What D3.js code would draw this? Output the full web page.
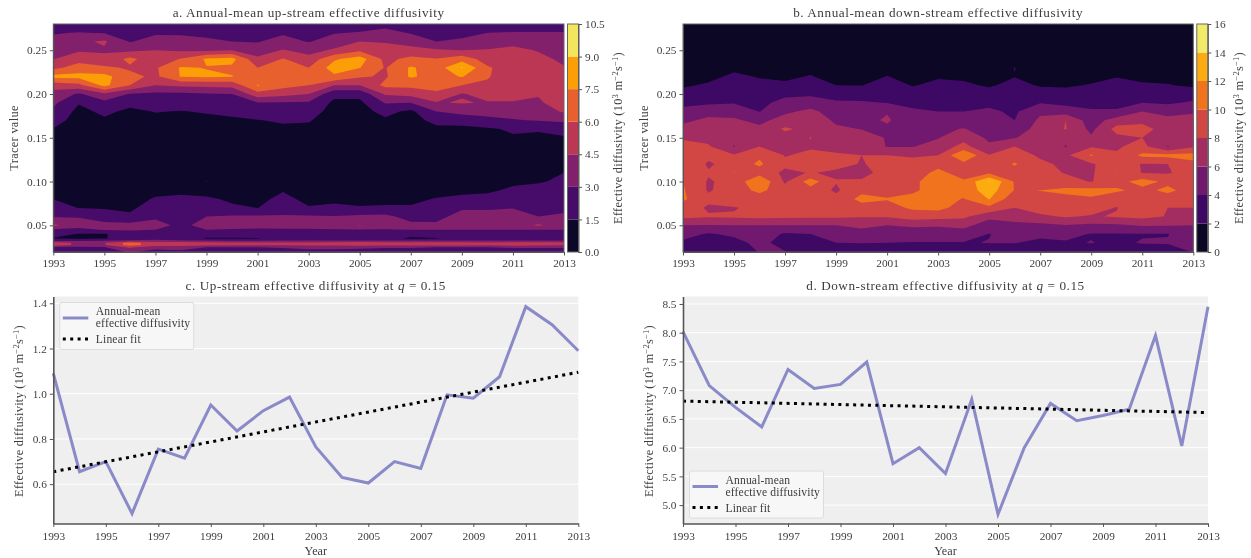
<!DOCTYPE html>
<html>
<head>
<meta charset="utf-8">
<script src="https://cdn.jsdelivr.net/npm/d3@7"></script>
<style>
body { margin: 0; background: #fff; }
svg { display: block; filter: blur(0.35px); }
text { font-family: "Liberation Serif", serif; fill: #3c3c3c; }
</style>
</head>
<body>
<svg id="chart" width="1251" height="558"></svg>
<script>
var years = d3.range(1993, 2014);
var yearTicks = d3.range(1993, 2014, 2);

// tracer levels of each grid row, top to bottom
var upLevels = [.28,.27,.26,.25,.24,.23,.22,.21,.20,.19,.18,.17,.16,.14,.10,.09,.08,.07,.06,.05,.045,.04,.035,.0325,.03,.0275,.025,.02];
var downLevels = [.28,.26,.24,.23,.22,.21,.20,.19,.18,.17,.16,.15,.14,.13,.12,.11,.10,.09,.08,.07,.06,.05,.04,.03,.02];

// annual-mean diffusivity, one list per year, values follow the levels above
var upByYear = [
  [2.2,2.9,3.4,3.9,4.45,5.6,8.0,5.1,4.0,3.3,2.7,2.0,1.45,1,1,1.2,1.48,2.2,2.9,4.8,2.8,2.1,1.4,2.7,5.2,5.2,2.8,2.4],
  [2.3,3.05,4.2,4.3,5.4,6.7,8.0,5.6,2.8,1.6,1.1,1,.9,.8,.8,.9,1.1,1.45,2.9,3.6,2.6,1.4,1.3,2.8,4.2,4.2,2.8,2.4],
  [2.3,2.9,4.7,4.3,4.9,6.3,8.0,7.9,4.2,2.6,1.8,1.3,1,.8,.8,.9,1.1,1.4,2.2,3.5,3.1,1.4,1.4,2.9,4.4,4.4,2.9,2.4],
  [2,2.4,2.9,4.2,6.4,5.8,6.4,6,2.9,1.9,1.2,1,.9,.8,.8,.9,1.1,1.3,1.7,3.5,3.2,2.2,2.2,3.2,6.6,6.6,4.8,3.2],
  [2.1,2.8,3.6,4.5,5,5.8,5.7,4.5,2.7,2,1.55,1.2,1,.8,.8,1.2,1.6,2,2.7,3.6,3,2.4,2.4,3.4,5.2,5.2,3.5,2.6],
  [2.1,2.8,3.5,4.3,6.1,7.65,7.6,4.8,2.7,2,1.45,1.1,.9,.8,.8,1.3,1.7,2,2.3,2.6,2.5,2.2,2.2,3.2,5.3,5.3,3.5,2.8],
  [2,2.6,3.3,4.2,7.7,7.45,7.7,4.9,2.9,2.2,1.6,1.2,1,.8,1.52,1,1.7,2.3,3,3.6,3,2,1.4,3,4.9,4.9,3,2.6],
  [1.9,2.4,3,4.5,8,7.2,7.55,5,3,2.3,1.8,1.3,1,.8,.8,1,1.3,1.7,3.2,3.6,2.9,2,1.4,2.9,4.8,4.8,3,2.6],
  [1.9,2.3,2.9,3.8,4.8,6,6.6,7.6,5.4,2.9,2.2,1.45,1.1,.8,.8,1,1.3,1.48,3.2,3.6,2.8,2,1.45,2.9,4.7,4.7,3,2.6],
  [2.2,2.8,3.6,4.6,6.1,6.9,7,6.5,5,2.9,2.3,1.7,1.2,.8,.9,1.45,1.7,2,3.2,3.7,2.8,2.1,1.9,3,4.7,4.7,3.1,2.6],
  [2,2.4,2.9,4,5,6,6.8,6,4.5,2.8,2.1,1.6,1.2,.9,.8,1,1.3,1.55,3.2,3.7,2.8,2.1,2.1,3.1,4.8,4.8,3.3,2.7],
  [2.2,2.9,3.7,4.7,7.3,8.2,7.2,4.5,1.9,1.2,1,.9,.8,.8,.8,1,1.3,1.7,3.1,3.8,2.9,2.2,2.2,3.1,4.9,4.9,3.3,2.7],
  [2.3,3.1,4.5,5.7,8.2,7.55,6.2,4.5,1.9,1.2,1,.9,.8,.8,.8,1,1.3,1.55,3.3,4.55,2.9,2.1,2.1,3.1,5.3,5.3,3.2,2.6],
  [2.6,3.4,4.4,5,5.6,5.9,5.8,6.4,4.7,3.1,1.9,1.3,1,.8,.8,1,1.3,1.6,3.4,4,2.9,2.2,2.2,3.1,5,5,3.1,2.6],
  [2.2,2.9,3.9,5,6.4,7.7,7.7,6.4,5,3,1.2,1,.9,.8,.8,1,1.3,1.6,2.4,3.4,3,2.3,1.2,3,5,5,3.1,2.6],
  [1.9,2.4,3,4.7,6.1,6.7,6.9,6.6,5.7,4.4,3,1.9,1.2,.8,.8,1.2,1.55,1.9,2.5,3.3,3,2.3,1.4,3,5,5,3,2.6],
  [2,2.5,3.3,4.5,6.9,9.1,7.6,6,4.4,4.6,3.5,2,1.2,.8,.8,1.3,1.7,2.8,3.6,3.9,3,2.3,2.2,3,4.9,4.9,3,2.6],
  [2.3,3,3.7,4.6,5.3,6.2,6.2,5.6,5,4.4,3.5,2.6,1.3,.9,.8,1.4,1.7,2.8,3.6,3.9,3,2.3,1.7,3,4.7,4.7,3,2.5],
  [2.4,3.05,4,4.9,5.2,5.2,4.6,5,5,4.4,3.6,2.9,1.7,1,1.4,1.6,2.1,2.9,4.4,3.8,3,2.4,2.2,3,5.1,5.1,3.1,2.6],
  [2.4,3.05,3.8,4.4,4.9,5.1,5.1,5,4.7,4.1,3.6,3.1,1.6,1,1.45,1.7,2.2,2.6,3,4.7,3,2.3,2.2,3,5,4.8,3.1,2.6],
  [2.4,3.05,3.5,3.9,4.2,4.6,4.9,5.1,5.2,6,4.7,3.4,1.7,1.2,1.6,1.8,2.2,2.7,3.2,3.6,3,2.3,2.2,3,5,4.7,3.1,2.6]
];
var downByYear = [
  [.6,.7,.9,1.1,1.4,1.8,2.5,3.5,4.6,5.6,6.6,7.8,8.6,9,10.1,9.5,10.05,10.2,10.3,9.2,8.5,6,4.7,3.6,3],
  [.6,.7,1,1.2,1.6,2.2,3,3.7,5.3,6.4,6.9,7.5,8.2,8.6,7.7,8.2,7.8,7.8,8.5,7.7,8.2,5.9,3.8,3.2,3],
  [.6,.8,1.3,1.7,2.3,2.8,3.4,3.9,5.1,6.3,6.7,6.5,5.9,8.2,9,10.05,8.7,9,10.05,7.8,8.3,6,4.4,3.3,3],
  [.6,.7,1.1,1.4,1.9,2.4,3,3.5,3.95,5.4,6.5,7.2,8,9.7,10.3,9.2,11.8,10.5,9,8.8,8.5,6,5.3,4.6,4.1],
  [.6,.7,1,1.3,1.7,2.3,3.6,4.6,5.6,6.9,8.3,7.1,7.5,7.9,8.4,7.6,7.7,8.8,9,8.9,8.4,6,3.7,3.2,4.05],
  [.6,.8,1.2,1.6,2.1,2.9,3.7,4.9,6.5,7.1,7.4,8.05,7.8,8.4,8.8,8.1,11,9.2,9,8.8,8.3,6,4,3,2.8],
  [.5,.6,.8,1,1.4,2,3.2,4.3,5,5.7,6.3,6.8,7.5,8.2,8.5,7.7,8.1,7.7,8.6,8.8,8.3,6,4.7,4,2.5],
  [.5,.6,.8,1,1.4,1.95,3.2,4.2,4.9,5.5,5.95,6.7,7.3,8,7.9,7.5,8.2,9.5,10.6,9.2,8.1,6.6,5,4.05,3],
  [.5,.6,.9,1.4,2.05,2.8,3.4,3.95,5.9,6.2,5.7,5.9,5.9,8,8.5,8.6,8.9,9.4,10.1,9.3,8.2,6,5,4,3],
  [.5,.6,.8,1.1,1.5,1.9,2.7,3.5,4.3,5,5.7,5.9,5.9,7.8,8.6,8.8,9.2,9.7,10.5,10.3,9,6.3,4.9,3.9,3.1],
  [.5,.6,.9,1.3,1.85,2.4,2.9,3.4,4,4.8,5.6,5.9,6.9,8,9.3,10.6,12.05,10.8,10.7,10.6,8.7,6.2,5,3.9,3.1],
  [.5,.6,.9,1.2,1.7,2.3,2.8,3.4,4,5,6.1,7.4,8.6,12.05,9.4,9,10.3,10.8,9.9,9.1,8.4,6.6,4.9,3.9,3.2],
  [.5,.6,.8,1,1.3,1.8,2.7,3.6,4.3,4.8,5.2,5.6,6.4,8.1,8.7,9.6,14.1,13,12.1,9.5,6.5,5,3.95,4.05,3],
  [.5,.6,.9,2.05,1.95,2.5,2.9,3.3,3.7,4,5,5.9,8,9,10.2,9.2,9.8,9.9,8.6,8,7,5.4,4.6,4.05,3.1],
  [.5,.6,.8,1,1.4,1.85,2.7,3.9,5.6,6.4,6.7,7,7.4,7.7,8.4,8.6,8.9,10.02,9.8,9,7.6,5.5,4.3,3.7,3.1],
  [.5,.6,.7,.9,1.2,1.8,2.6,3.5,5,8,8.1,6.5,5.9,7.6,7.6,7.9,8.6,10.5,9.4,9,8.2,5.9,4.6,3.8,3.2],
  [.5,.6,.8,1.1,1.6,2.1,2.7,3.5,4.2,4.9,5.5,6.3,7.8,10.2,7.8,7.7,7.9,10.6,9.8,9,7.8,5.6,3.9,4.05,3.1],
  [.5,.6,.9,1.3,1.95,2.4,2.9,3.5,4.2,7,8.7,7.5,7.8,8.2,9,10.05,9.2,10.3,8.7,7.9,8.2,5.7,3.9,3.7,3.1],
  [.5,.6,.8,1.1,1.6,2.2,3,4,6,7.3,8.9,8,8.6,10.4,7.9,7.9,10.9,9.4,9,10.05,8.5,6.2,3.9,4.1,3.1],
  [.5,.6,.8,1,1.5,2.1,2.9,3.7,5.4,6.5,6.9,6.7,5.9,10.6,8,7.8,9.5,10.5,9,8,7.9,6.1,3.95,4.1,3.3],
  [.5,.5,.6,.8,1.2,1.7,3,4.3,5.9,6.3,6.9,7.9,7.8,10.7,9.5,9,9.2,9,8.9,8,7.9,6,4.7,4.05,4.1]
];

var upLines = [1.09,.655,.70,.47,.755,.715,.95,.835,.925,.985,.765,.63,.605,.70,.67,.995,.98,1.075,1.385,1.305,1.19];
var upFit = [.655,1.095];
var downLines = [8.02,7.08,6.7,6.36,7.36,7.03,7.1,7.49,5.72,6.0,5.55,6.84,4.84,6.0,6.77,6.47,6.56,6.67,7.95,6.03,8.45];
var downFit = [6.81,6.61];

var upBands = [0,1.5,3,4.5,6,7.5,9,10.5];
var downBands = [0,2,4,6,8,10,12,14,16];

var svg = d3.select("#chart");
var gray = "#555";

function diffusivityLabel(sel) {
    // Effective diffusivity (10^3 m^-2 s^-1)
    sel.attr("font-size", "12.4px").style("letter-spacing", "0.25px");
    sel.append("tspan").text("Effective diffusivity (10");
    sel.append("tspan").attr("dy", -4).attr("font-size", "8.5px").text("3");
    sel.append("tspan").attr("dy", 4).text(" m");
    sel.append("tspan").attr("dy", -4).attr("font-size", "8.5px").text("\u22122");
    sel.append("tspan").attr("dy", 4).text("s");
    sel.append("tspan").attr("dy", -4).attr("font-size", "8.5px").text("\u22121");
    sel.append("tspan").attr("dy", 4).text(")");
}

function styleAxis(g) {
    g.selectAll("text").attr("font-size", "11.3px").style("fill", "#3c3c3c");
    g.selectAll("line").attr("stroke", gray);
    g.selectAll(".domain").attr("stroke", gray);
}

function title(text, cx, y, q) {
    var t = svg.append("text").attr("x", cx).attr("y", y).attr("text-anchor", "middle")
        .attr("font-size", "13.2px").style("letter-spacing", "0.55px");
    t.append("tspan").text(text);
    if (q) {
        t.append("tspan").attr("font-style", "italic").text("q");
        t.append("tspan").text(" = 0.15");
    }
}

function contourPanel(id, byYear, levels, bands, box, cbarFormat, titleText) {
    var x = d3.scaleLinear().domain([1993, 2013]).range([box.left, box.right]);
    var y = d3.scaleLinear().domain([.0195, .28]).range([box.bottom, box.top]);
    var rowToLevel = d3.scaleLinear().domain(d3.range(levels.length)).range(levels);
    var nc = years.length, nr = levels.length;
    var values = [];
    for (var r = 0; r < nr; r++) {
        for (var c = 0; c < nc; c++) values.push(byYear[c][r]);
    }
    var colour = function (i) { return d3.interpolateInferno((i + .5) / (bands.length - 1)); };

    var contours = d3.contours().size([nc, nr]).thresholds(bands.slice(0, -1))(values);
    var proj = d3.geoTransform({
        point: function (px, py) {
            this.stream.point(x(1993 + px - .5), y(rowToLevel(py - .5)));
        }
    });
    var path = d3.geoPath(proj);

    svg.append("clipPath").attr("id", "clip" + id).append("rect")
        .attr("x", box.left).attr("y", box.top)
        .attr("width", box.right - box.left).attr("height", box.bottom - box.top);
    var g = svg.append("g").attr("clip-path", "url(#clip" + id + ")");
    g.append("rect").attr("x", box.left).attr("y", box.top)
        .attr("width", box.right - box.left).attr("height", box.bottom - box.top)
        .attr("fill", colour(0));
    g.selectAll("path").data(contours).enter().append("path")
        .attr("d", path)
        .attr("fill", function (d, i) { return colour(i); });

    svg.append("rect").attr("x", box.left).attr("y", box.top)
        .attr("width", box.right - box.left).attr("height", box.bottom - box.top)
        .attr("fill", "none").attr("stroke", "#666");

    svg.append("g").attr("transform", "translate(0," + box.bottom + ")")
        .call(d3.axisBottom(x).tickValues(yearTicks).tickFormat(d3.format("d")).tickSize(3.5).tickSizeOuter(0))
        .call(styleAxis);
    svg.append("g").attr("transform", "translate(" + box.left + ",0)")
        .call(d3.axisLeft(y).tickValues([.05, .10, .15, .20, .25]).tickFormat(d3.format(".2f")).tickSize(3.5).tickSizeOuter(0))
        .call(styleAxis);

    svg.append("text").attr("transform", "translate(" + (box.left - 35.5) + "," + (box.top + box.bottom) / 2 + ") rotate(-90)")
        .attr("text-anchor", "middle").attr("font-size", "12.4px").style("letter-spacing", "0.3px").text("Tracer value");

    title(titleText, (box.left + box.right) / 2, 17);

    // colour bar
    var cb = d3.scaleLinear().domain([bands[0], bands[bands.length - 1]]).range([box.bottom, box.top]);
    var cbx = box.right + 3.5, cbw = 11;
    svg.selectAll(".cb" + id).data(bands.slice(0, -1)).enter().append("rect")
        .attr("class", "cb" + id)
        .attr("x", cbx).attr("width", cbw)
        .attr("y", function (d, i) { return cb(bands[i + 1]); })
        .attr("height", function (d, i) { return cb(bands[i]) - cb(bands[i + 1]); })
        .attr("fill", function (d, i) { return colour(i); });
    svg.append("rect").attr("x", cbx).attr("y", box.top).attr("width", cbw).attr("height", box.bottom - box.top)
        .attr("fill", "none").attr("stroke", "#666");
    svg.append("g").attr("transform", "translate(" + (cbx + cbw) + ",0)")
        .call(d3.axisRight(cb).tickValues(bands).tickFormat(d3.format(cbarFormat)).tickSize(3.5).tickSizeOuter(0))
        .call(styleAxis);
    svg.append("text").attr("transform", "translate(" + box.labelX + "," + (box.top + box.bottom) / 2 + ") rotate(-90)")
        .attr("text-anchor", "middle").call(diffusivityLabel);
}

function linePanel(values, fit, box, domain, ticks, tickFormat, legendY, titleText) {
    var x = d3.scaleLinear().domain([1993, 2013]).range([box.left, box.right]);
    var y = d3.scaleLinear().domain(domain).range([box.bottom, box.top]);

    svg.append("rect").attr("x", box.left).attr("y", box.top)
        .attr("width", box.right - box.left).attr("height", box.bottom - box.top)
        .attr("fill", "#efefef");
    svg.append("g").selectAll("line").data(ticks).enter().append("line")
        .attr("x1", box.left).attr("x2", box.right)
        .attr("y1", function (d) { return y(d); }).attr("y2", function (d) { return y(d); })
        .attr("stroke", "#fff");

    var line = d3.line().x(function (d, i) { return x(years[i]); }).y(function (d) { return y(d); });
    svg.append("path").attr("d", line(values)).attr("fill", "none")
        .attr("stroke", "#8a8ac9").attr("stroke-width", 3).attr("stroke-linejoin", "miter");
    svg.append("line").attr("x1", x(1993)).attr("x2", x(2013)).attr("y1", y(fit[0])).attr("y2", y(fit[1]))
        .attr("stroke", "#000").attr("stroke-width", 3).attr("stroke-dasharray", "3,4.4");

    var xa = svg.append("g").attr("transform", "translate(0," + box.bottom + ")")
        .call(d3.axisBottom(x).tickValues(yearTicks).tickFormat(d3.format("d")).tickSize(3.5).tickPadding(4.5).tickSizeOuter(0))
        .call(styleAxis);
    var ya = svg.append("g").attr("transform", "translate(" + box.left + ",0)")
        .call(d3.axisLeft(y).tickValues(ticks).tickFormat(d3.format(tickFormat)).tickSize(3.5).tickSizeOuter(0))
        .call(styleAxis);
    xa.select(".domain").attr("stroke-width", 1.6);
    ya.select(".domain").attr("stroke-width", 1.6);

    svg.append("text").attr("x", (box.left + box.right) / 2).attr("y", 555).attr("text-anchor", "middle")
        .attr("font-size", "12.2px").text("Year");
    svg.append("text").attr("transform", "translate(" + (box.left - 30) + ",411) rotate(-90)")
        .attr("text-anchor", "middle").call(diffusivityLabel);

    title(titleText, (box.left + box.right) / 2, 290, true);

    // legend
    var lx = box.left + 6.5;
    var lg = svg.append("g").attr("transform", "translate(" + lx + "," + legendY + ")");
    lg.append("rect").attr("width", 134).attr("height", 47).attr("rx", 2)
        .attr("fill", "#f7f7f7").attr("stroke", "#dcdcdc");
    lg.append("line").attr("x1", 3).attr("x2", 28.5).attr("y1", 15.5).attr("y2", 15.5)
        .attr("stroke", "#8a8ac9").attr("stroke-width", 3);
    lg.append("line").attr("x1", 3).attr("x2", 28.5).attr("y1", 36.5).attr("y2", 36.5)
        .attr("stroke", "#000").attr("stroke-width", 3).attr("stroke-dasharray", "3,4.4");
    [["Annual-mean", 12.5], ["effective diffusivity", 24.5], ["Linear fit", 40.5]].forEach(function (d) {
        lg.append("text").attr("x", 36).attr("y", d[1]).attr("font-size", "11.6px")
            .style("letter-spacing", "0.15px").text(d[0]);
    });
}

contourPanel("a", upByYear, upLevels, upBands,
    { left: 53.3, right: 564, top: 24, bottom: 252, labelX: 621.5 }, ".1f",
    "a.  Annual-mean up-stream effective diffusivity");
contourPanel("b", downByYear, downLevels, downBands,
    { left: 683, right: 1193.3, top: 24, bottom: 252, labelX: 1243 }, "d",
    "b.  Annual-mean down-stream effective diffusivity");

linePanel(upLines, upFit, { left: 53.3, right: 578.3, top: 296.5, bottom: 523.5 },
    [.426, 1.43], [.6, .8, 1.0, 1.2, 1.4], ".1f", 302.5,
    "c.  Up-stream effective diffusivity at ");
linePanel(downLines, downFit, { left: 683, right: 1208, top: 296.5, bottom: 523.5 },
    [4.68, 8.63], [5, 5.5, 6, 6.5, 7, 7.5, 8, 8.5], ".1f", 471,
    "d.  Down-stream effective diffusivity at ");
</script>
</body>
</html>
